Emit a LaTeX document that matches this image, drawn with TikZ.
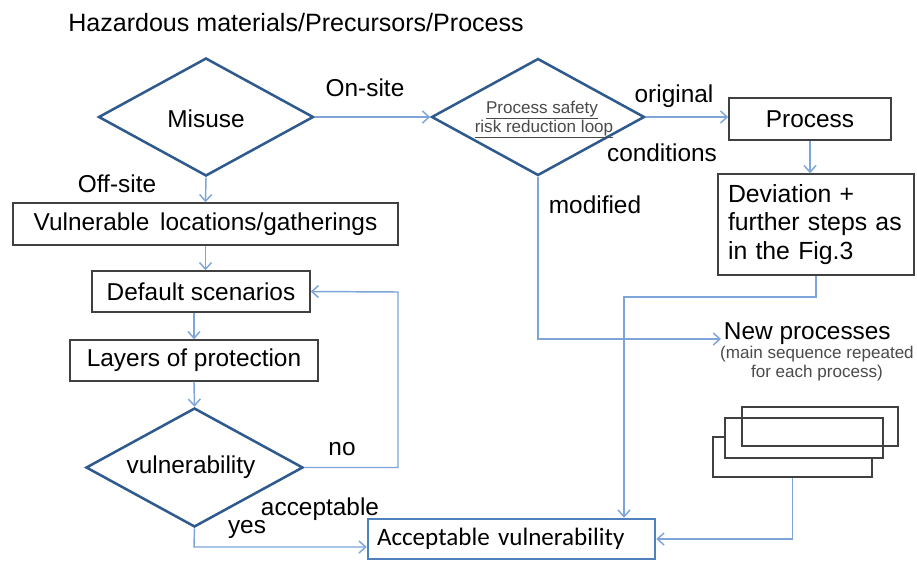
\documentclass[tikz,border=0pt]{standalone}
\usepackage{fontspec}
\setmainfont{Liberation Sans}
\newfontfamily\calib{Carlito}
\usetikzlibrary{arrows.meta,shapes.geometric}
\definecolor{dkblue}{HTML}{2E5A8E}
\definecolor{ltblue}{HTML}{7DA5D9}
\definecolor{boxgray}{HTML}{404040}
\definecolor{accblue}{HTML}{4F81BD}
\definecolor{notegray}{HTML}{4A4A4A}
\newcommand\mainsz{\fontsize{18.3}{22}\selectfont}
\begin{document}
\begin{tikzpicture}[x=0.75pt,y=-0.75pt,
  decision/.style={diamond, draw=dkblue, line width=1.9pt, inner sep=0pt},
  stepbox/.style={draw=boxgray, line width=1.1pt, inner sep=0pt, font=\mainsz},
  stack/.style={draw=boxgray, line width=1.1pt, inner sep=0pt},
  conn/.style={draw=ltblue, line width=1.1pt},
  arr/.style={conn, -{Straight Barb[length=5pt,width=9pt]}},
  lbl/.style={inner sep=0pt, anchor=base, font=\mainsz},
  small/.style={inner sep=0pt, text=notegray, font=\fontsize{12.8}{14.25}\selectfont}]
\useasboundingbox (0,0) rectangle (917,561);

% title
\node[lbl, anchor=base west, font=\fontsize{18.8}{22}\selectfont] (title) at (68,31) {Hazardous materials/Precursors/Process};

% decisions
\node[decision, minimum width=161.25pt, minimum height=88.5pt] (misuse) at (206,117) {};
\node[lbl] (misusetxt) at (206,127) {Misuse};
\node[decision, minimum width=159.75pt, minimum height=87.75pt] (psrl) at (538,117) {};
\node[small, anchor=base] (psrl1) at (542,113) {\underline{Process safety}};
\node[small, anchor=base] (psrl2) at (544,132) {\underline{risk reduction loop}};
\node[decision, minimum width=162.75pt, minimum height=89.25pt] (vulnd) at (194.5,467.5) {};
\node[lbl] (vulndtxt) at (191,473) {vulnerability};

% process boxes
\node[stepbox, minimum width=121.5pt, minimum height=31.5pt] (process) at (810,119) {Process};
\node[stepbox, minimum width=147pt, minimum height=75.75pt, text width=132pt, inner xsep=7.5pt, align=left,
      font=\fontsize{18.6}{21.4}\selectfont] (deviation) at (816,224.5) {Deviation +\\further steps as\\in the Fig.3};
\node[stepbox, minimum width=288.75pt, minimum height=31.5pt] (vuln) at (205.5,224) {Vulnerable \,locations/gatherings};
\node[stepbox, minimum width=163.5pt, minimum height=30.75pt] (default) at (201,291.5) {Default scenarios};
\node[stepbox, minimum width=186pt, minimum height=30.75pt] (layers) at (194,360.5) {Layers of protection};
\node[draw=accblue, line width=1.9pt, inner ysep=0pt, inner xsep=6.75pt, minimum width=215.25pt, minimum height=30pt,
      text width=201.75pt, align=left, font=\calib\fontsize{18.8}{22}\selectfont] (acc) at (511.5,539) {Acceptable vulnerability};

% new processes
\node[lbl, anchor=base west, inner xsep=2pt] (newproc) at (721,339) {New processes};
\node[small, align=center] (note) at (817,364) {(main sequence repeated\\for each process)};

% stacked process sheets
\node[stack, minimum width=119.25pt, minimum height=30pt] (sr3) at (792.5,457) {};
\node[stack, fill=white, minimum width=118.5pt, minimum height=30pt] (sr2) at (804,438) {};
\node[stack, minimum width=117pt, minimum height=29.25pt] (sr1) at (820,426.5) {};

% turning points
\coordinate (noloop) at (398,292);
\coordinate (yesturn) at (194,547);
\coordinate (devturn) at (624,297);

% connectors
\draw[arr] (misuse.east) -- (psrl.west);
\draw[arr] (psrl.east) -- (psrl.east -| process.west);
\draw[arr] (process.south) -- (process.south |- deviation.north);
\draw[arr] (misuse.south) -- (vuln.north);
\draw[arr] (vuln.south) -- (vuln.south |- default.north);
\draw[arr] (layers.north |- default.south) -- (layers.north);
\draw[arr] (layers.south) -- (vulnd.north);
\draw[arr] (vulnd.east) -| (noloop) -- (default.east);
\draw[arr] (vulnd.south) -- (yesturn) -- (yesturn -| acc.west);
\draw[arr] (psrl.south) |- (newproc.base west);
\draw[arr] (deviation.south) |- (devturn) -- (devturn |- acc.north);
\draw[arr] (sr3.south) |- (acc.east);

% branch labels
\node[lbl] (onsite) at (365,96) {On-site};
\node[lbl] (offsite) at (117,192) {Off-site};
\node[lbl] (original) at (674,102) {original};
\node[lbl] (conditions) at (662,161) {conditions};
\node[lbl] (modified) at (595,213) {modified};
\node[lbl] (no) at (342,455) {no};
\node[lbl] (acceptable) at (320,515) {acceptable};
\node[lbl] (yes) at (247,533) {yes};
\end{tikzpicture}
\end{document}
